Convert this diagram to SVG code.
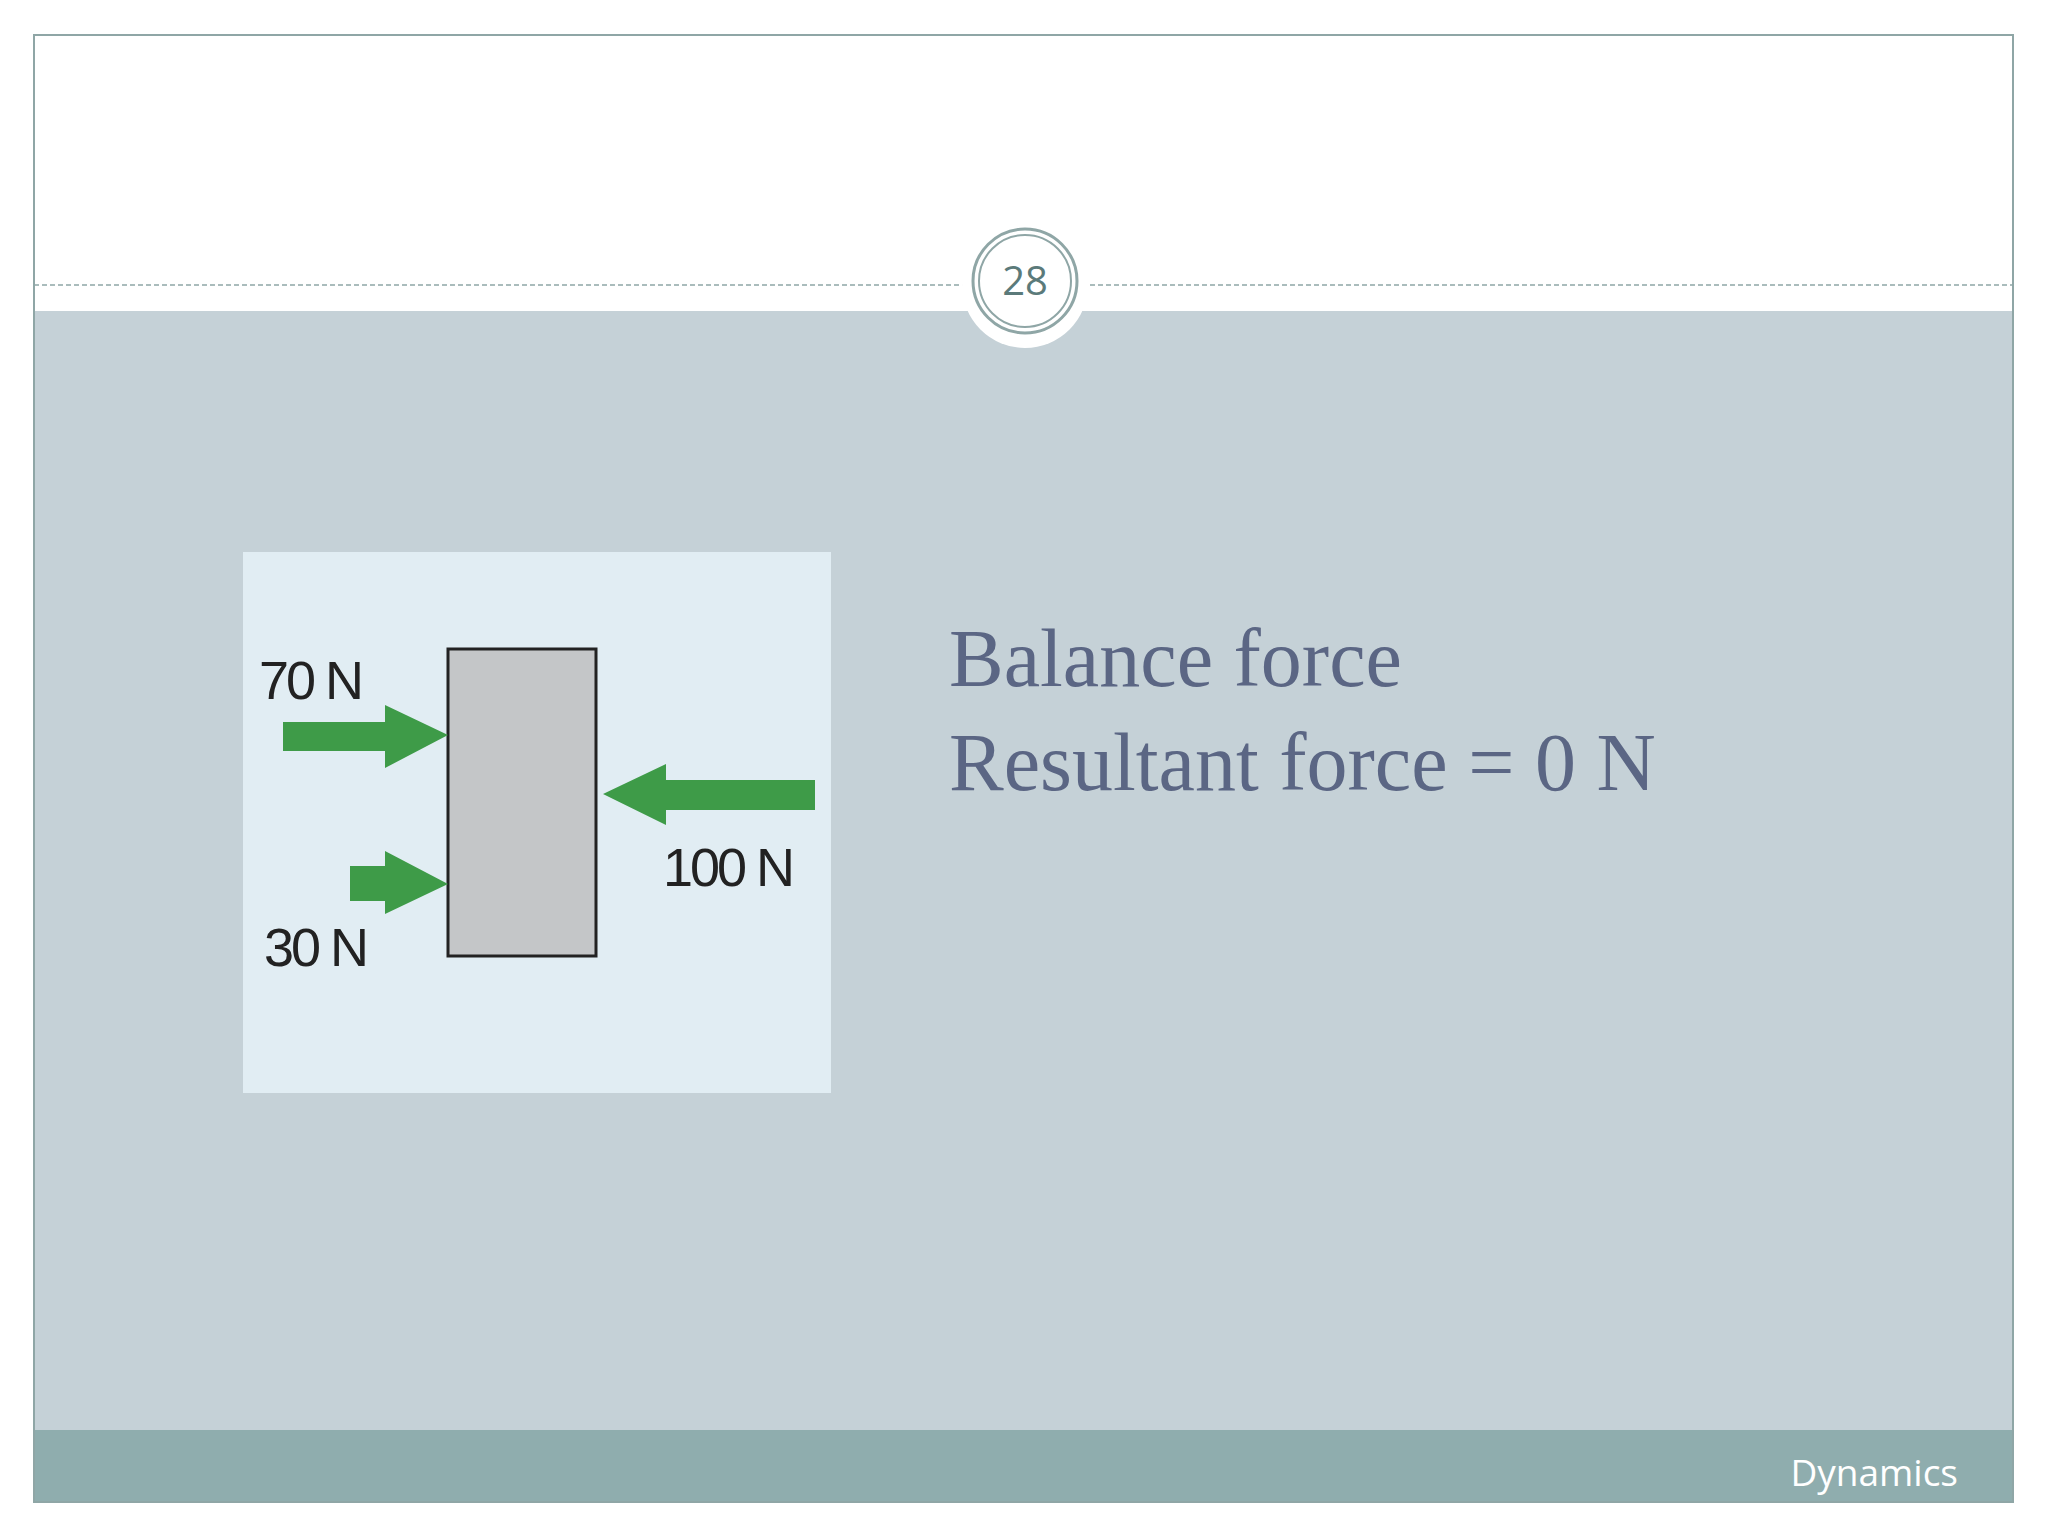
<svg xmlns="http://www.w3.org/2000/svg" width="2048" height="1536" viewBox="0 0 2048 1536">
<style>
.lbl{font-family:"Liberation Sans",Arial,sans-serif;font-size:54px;fill:#222;letter-spacing:-3px}
.big{font-family:"Liberation Serif","DejaVu Serif",serif;font-size:82px;fill:#5b6684}
.arr{fill:#3e9b48}
</style>
<rect x="0" y="0" width="2048" height="1536" fill="#fff"/>
<rect x="34" y="311" width="1979" height="1119" fill="#c5d1d7"/>
<rect x="34" y="1430" width="1979" height="72" fill="#8fadae"/>
<rect x="34" y="35" width="1979" height="1467" fill="none" stroke="#8fa6a6" stroke-width="2"/>
<line x1="34" y1="285" x2="2013" y2="285" stroke="#8fa6a6" stroke-width="1.5" stroke-dasharray="5,3"/>
<g id="pagenum">
<circle cx="1025" cy="285" r="63" fill="#fff"/>
<circle cx="1025" cy="281" r="52" fill="none" stroke="#8fa6a6" stroke-width="3"/>
<circle cx="1025" cy="281" r="46" fill="none" stroke="#8fa6a6" stroke-width="2"/>
<text x="1025" y="295" text-anchor="middle" font-family="Open Sans,sans-serif" font-size="40" fill="#5b7a7a">28</text>
</g>
<g id="figure">
<rect x="243" y="552" width="588" height="541" fill="#e1edf3"/>
<rect id="box" x="448" y="649" width="148" height="307" fill="#c4c6c8" stroke="#222" stroke-width="3"/>
<text class="lbl" x="259" y="699">70 N</text>
<text class="lbl" x="264" y="966">30 N</text>
<text class="lbl" x="663" y="886">100 N</text>
</g>
<g id="connectors">
<polygon class="arr" points="283,722 385,722 385,705 448,735 385,768 385,751 283,751"/>
<polygon class="arr" points="350,866 385,866 385,851 448,884 385,914 385,901 350,901"/>
<polygon class="arr" points="815,780 666,780 666,764 603,794 666,825 666,810 815,810"/>
</g>
<g id="text">
<text class="big" x="949" y="686">Balance force</text>
<text class="big" x="949" y="790">Resultant force = 0 N</text>
</g>
<text x="1958" y="1486" text-anchor="end" font-family="Open Sans,sans-serif" font-size="37" fill="#fff">Dynamics</text>
</svg>
